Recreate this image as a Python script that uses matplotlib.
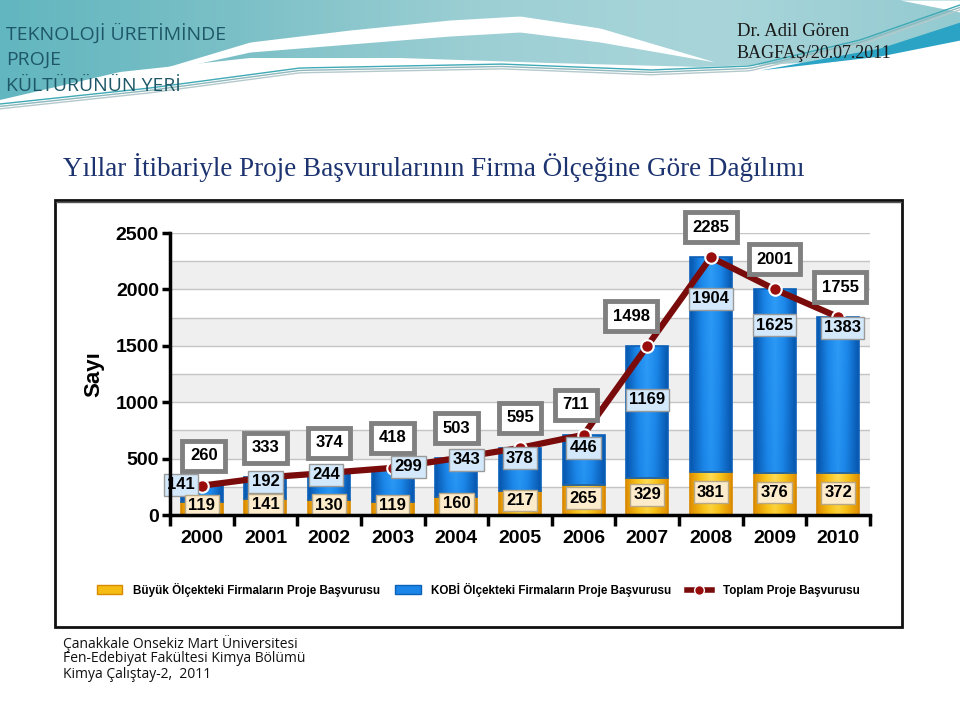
import numpy as np
import matplotlib
matplotlib.use('Agg')
import matplotlib.pyplot as plt
from matplotlib.patches import Rectangle, Polygon, Patch
from matplotlib.lines import Line2D
from matplotlib.colors import LinearSegmentedColormap

# data
years = ['2000', '2001', '2002', '2003', '2004', '2005', '2006', '2007', '2008', '2009', '2010']
buyuk = [119, 141, 130, 119, 160, 217, 265, 329, 381, 376, 372]
kobi = [141, 192, 244, 299, 343, 378, 446, 1169, 1904, 1625, 1383]
toplam = [260, 333, 374, 418, 503, 595, 711, 1498, 2285, 2001, 1755]

# where the KOBI labels sit (data units) and small x shifts of labels
kobi_lab_y = [266, 295, 355, 426, 488, 505, 594, 1020, 1915, 1684, 1658]
kobi_lab_dx = [-0.33, 0, -0.05, 0.25, 0.16, 0, 0, 0, 0, 0, 0.07]
top_lab_dx = [0.03, 0, 0, 0, 0, 0, -0.12, -0.25, 0, 0, 0.03]

fs = 14
lfs = 12
sans = 'Liberation Sans'

fig = plt.figure(figsize=(9.6, 7.16), dpi=100)

# ---- slide background (pixel coordinates) ----
bg = fig.add_axes([0, 0, 1, 1], zorder=-5)
bg.set_xlim(0, 960)
bg.set_ylim(716, 0)
bg.axis('off')

xx = np.linspace(0, 960, 200)
bot = np.interp(xx, [0, 120, 250, 400, 550, 700, 830, 900, 960], [100, 72, 58, 58, 63, 67, 62, 52, 38])
teal = Polygon(np.column_stack([np.r_[xx, xx[::-1]], np.r_[bot, np.zeros_like(xx)]]),
               closed=True, fc='none', ec='none')
bg.add_patch(teal)
tcmap = LinearSegmentedColormap.from_list('t', ['#62b6bf', '#7cc0c7', '#9ccfd4', '#a9d5da', '#93cbd1'])
g = bg.imshow(np.linspace(0, 1, 256)[None, :], extent=[0, 960, 110, 0], cmap=tcmap,
              aspect='auto', zorder=0)
g.set_clip_path(teal)

# white swoosh
sx = np.linspace(150, 715, 150)
s_top = np.interp(sx, [150, 250, 350, 450, 520, 600, 715], [72, 42, 30, 20, 16, 28, 62])
s_bot = np.interp(sx, [150, 250, 350, 450, 520, 600, 715], [74, 52, 44, 36, 32, 42, 62])
bg.fill_between(sx, s_top, s_bot, color='white', zorder=1, lw=0)
bg.fill_between([900, 960], [0, 0], [0, 12], color='white', zorder=1, lw=0)

# thin lines
lx = np.linspace(0, 960, 200)
for off, c in [(0, '#3fa9b5'), (4, '#8fb8bd'), (8, '#b5c9cc')]:
    ly = np.interp(lx, [0, 150, 300, 500, 650, 750, 860, 960], [104, 88, 68, 64, 70, 66, 40, 5]) + off * 0.6
    bg.plot(lx, ly, color=c, lw=1, zorder=2)
bg.fill_between([760, 880, 960], [70, 48, 22], [70, 56, 40], color='#2aa3c4', zorder=2, lw=0)

# header texts
for i, t in enumerate(['TEKNOLOJİ ÜRETİMİNDE', 'PROJE', 'KÜLTÜRÜNÜN YERİ']):
    bg.text(6, 34 + i * 26, t, fontsize=14, family='Open Sans', color='#1e5868', va='center')
bg.text(737, 32, 'Dr. Adil Gören', fontsize=13.5, family='Liberation Serif', color='#1a1a1a', va='center')
bg.text(737, 53, 'BAGFAŞ/20.07.2011', fontsize=13, family='Liberation Serif', color='#1a1a1a', va='center')

bg.text(63, 168, 'Yıllar İtibariyle Proje Başvurularının Firma Ölçeğine Göre Dağılımı',
        fontsize=19.5, family='Liberation Serif', color='#1c3370', va='center')

# chart frame
bg.add_patch(Rectangle((55, 200), 847, 427, fc='white', ec='#111111', lw=2, zorder=1))
bg.plot([56, 901], [202, 202], color='#555555', lw=1, zorder=2)

for i, t in enumerate(['Çanakkale Onsekiz Mart Üniversitesi', 'Fen-Edebiyat Fakültesi Kimya Bölümü',
                       'Kimya Çalıştay-2,  2011']):
    bg.text(63, 643 + i * 16, t, fontsize=10, family='Open Sans', color='#111111', va='center')

# ---- chart ----
ax = fig.add_axes([170 / 960, 1 - 515 / 716, 700 / 960, 282 / 716])
x = np.arange(len(years))

for y0 in range(0, 2500, 500):
    ax.axhspan(y0, y0 + 250, color='#efefef', zorder=0, lw=0)
for y0 in range(250, 2501, 250):
    ax.axhline(y0, color='#c4c4c4', lw=1, zorder=0.5)

w = 0.66
yb = ax.bar(x, buyuk, width=w, color='none', ec='#d88a00', lw=1.2, zorder=2)
kb = ax.bar(x, kobi, width=w, bottom=buyuk, color='none', ec='#0b60b8', lw=1.2, zorder=2)

prof = 1 - np.abs(np.linspace(-1, 1, 64))
grad = np.tile(prof, (32, 1)) * np.linspace(0.75, 1, 32)[:, None]
bcmap = LinearSegmentedColormap.from_list('b', ['#0756ad', '#1b86e8', '#2f9cf8'])
ycmap = LinearSegmentedColormap.from_list('y', ['#e08f00', '#f7c21a', '#ffdd55'])
for bars, cm in [(yb, ycmap), (kb, bcmap)]:
    for r in bars:
        x0, y0, bw, bh = r.get_x(), r.get_y(), r.get_width(), r.get_height()
        im = ax.imshow(grad, extent=[x0, x0 + bw, y0, y0 + bh], cmap=cm, aspect='auto',
                       origin='lower', zorder=1.5, vmin=0, vmax=1)
        im.set_clip_path(r)
ax.set_xlim(-0.5, len(years) - 0.5)
ax.set_ylim(0, 2500)

# line and dots sit under the value boxes
ax.plot(x, toplam, color='#7a0b0b', lw=4.5, zorder=4, solid_capstyle='round')
ax.plot(x, toplam, ls='none', marker='o', ms=9, mfc='#9a0d0d', mec='white', mew=1.5, zorder=5)

for i in range(len(years)):
    ax.text(x[i] + top_lab_dx[i], toplam[i] + 265, str(toplam[i]), ha='center', va='center',
            fontsize=lfs, fontweight='bold', family=sans, zorder=7, clip_on=False,
            bbox=dict(boxstyle='square,pad=0.45', fc='white', ec='#808080', lw=3.5))
    ax.text(x[i] + kobi_lab_dx[i], kobi_lab_y[i], str(kobi[i]), ha='center', va='center',
            fontsize=lfs, fontweight='bold', family=sans, zorder=6,
            bbox=dict(boxstyle='square,pad=0.2', fc='#d3e8fa', ec='#9a9a9a', lw=1))
    ax.text(x[i], buyuk[i] * 0.45 + 30, str(buyuk[i]), ha='center', va='center',
            fontsize=lfs, fontweight='bold', family=sans, zorder=6,
            bbox=dict(boxstyle='square,pad=0.2', fc='#fdeccb', ec='#b8a888', lw=1))

for s in ['top', 'right']:
    ax.spines[s].set_visible(False)
for s in ['left', 'bottom']:
    ax.spines[s].set_linewidth(2.5)
    ax.spines[s].set_zorder(8)

ax.set_yticks(range(0, 2501, 500))
ax.set_yticklabels([str(v) for v in range(0, 2501, 500)], fontsize=fs, fontweight='bold', family=sans)
ax.tick_params(axis='y', length=6, width=2.5, pad=2)
ax.set_xticks(np.arange(-0.5, len(years), 1))
ax.set_xticklabels([])
ax.tick_params(axis='x', which='major', length=8, width=2.5, direction='out')
ax.set_xticks(x, minor=True)
ax.set_xticklabels(years, minor=True, fontsize=fs, fontweight='bold', family=sans)
ax.tick_params(axis='x', which='minor', length=0, pad=11)
ax.set_ylabel('Sayı', fontsize=16, fontweight='bold', family=sans, labelpad=8)

handles = [Patch(fc='#f5bd14', ec='#d88a00'),
           Patch(fc='#1b86e8', ec='#0b60b8'),
           Line2D([0], [0], color='#7a0b0b', lw=4, marker='o', ms=7, mfc='#9a0d0d', mec='white')]
labels = ['Büyük Ölçekteki Firmaların Proje Başvurusu', 'KOBİ Ölçekteki Firmaların Proje Başvurusu',
          'Toplam Proje Başvurusu']
fig.legend(handles, labels, loc='center', bbox_to_anchor=(0.498, 1 - 590 / 716), ncol=3,
           frameon=False, prop=dict(family=sans, weight='bold', size=8.4),
           handlelength=2.2, handleheight=0.8, columnspacing=1.3, handletextpad=0.9)

fig.savefig('out.png', dpi=100)
